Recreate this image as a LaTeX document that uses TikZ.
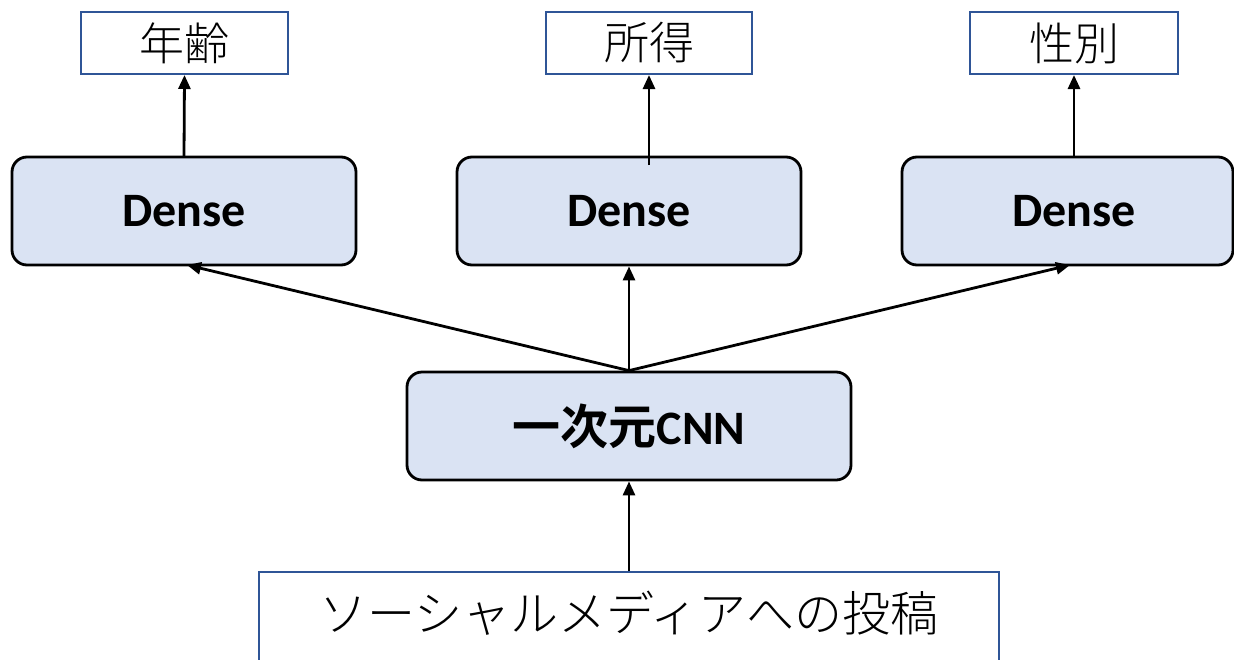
\documentclass[tikz,border=0pt]{standalone}
\usepackage{fontspec}
\setmainfont{Carlito}
\newfontfamily\cjk{Noto Sans CJK JP Light}
\newfontfamily\cjkb{Noto Sans CJK JP Bold}
\newfontfamily\latinb{Carlito Bold}
\usetikzlibrary{arrows.meta}
\definecolor{boxblue}{HTML}{2F5597}
\definecolor{layerfill}{HTML}{DAE3F3}
\begin{document}
\begin{tikzpicture}[x=1pt,y=-1pt,
  outbox/.style={draw=boxblue,line width=2pt,fill=white,inner sep=0pt},
  layer/.style={draw=black,line width=2.8pt,fill=layerfill,rounded corners=15pt,inner sep=0pt},
  conn/.style={line width=2.8pt,-{Triangle[length=14pt,width=12pt]}},
  lbl/.style={font=\cjk\fontsize{45}{48}\selectfont},
  bold/.style={font=\latinb\fontsize{48}{52}\selectfont}]
\useasboundingbox (0,0) rectangle (1234,659);
% output boxes
\node[outbox,minimum width=207pt,minimum height=62pt] (age) at (184.5,43) {};
\node[lbl] at (age.center) {年齢};
\node[outbox,minimum width=206pt,minimum height=62pt] (inc) at (649,43) {};
\node[lbl] at (inc.center) {所得};
\node[outbox,minimum width=208pt,minimum height=62pt] (sex) at (1074,43) {};
\node[lbl] at (sex.center) {性別};
% dense layers
\node[layer,minimum width=344pt,minimum height=108pt] (d1) at (184,211) {};
\node[bold] at (d1.center) {Dense};
\node[layer,minimum width=344pt,minimum height=108pt] (d2) at (629,211) {};
\node[bold] at (d2.center) {Dense};
\node[layer,minimum width=331pt,minimum height=108pt] (d3) at (1067.5,211) {};
\node[bold] at (1074,211) {Dense};
% convolution layer
\node[layer,minimum width=444pt,minimum height=108pt] (cnn) at (629,426) {};
\node[bold] at (cnn.center) {{\cjkb 一次元}{\latinb CNN}};
% input box
\node[outbox,minimum width=740pt,minimum height=120pt,anchor=north] (post) at (629,571) {};
\node[font=\cjk\fontsize{48}{52}\selectfont] at (629,613) {ソーシャルメディアへの投稿};
% connectors
\coordinate (d1out) at (184,157);
\coordinate (d2out) at (649,165);
\coordinate (d3out) at (1074,157);
\draw[conn] (d1out) -- (age.south);
\draw[conn] (d2out) -- (inc.south);
\draw[conn] (d3out) -- (sex.south);
\coordinate (d3in) at (1070,265);
\coordinate (d1in) at (187,265);
\draw[conn] (cnn.north) -- (d1in);
\draw[conn] (cnn.north) -- (d2.south);
\draw[conn] (cnn.north) -- (d3in);
\draw[conn] (post.north) -- (cnn.south);
\end{tikzpicture}
\end{document}
